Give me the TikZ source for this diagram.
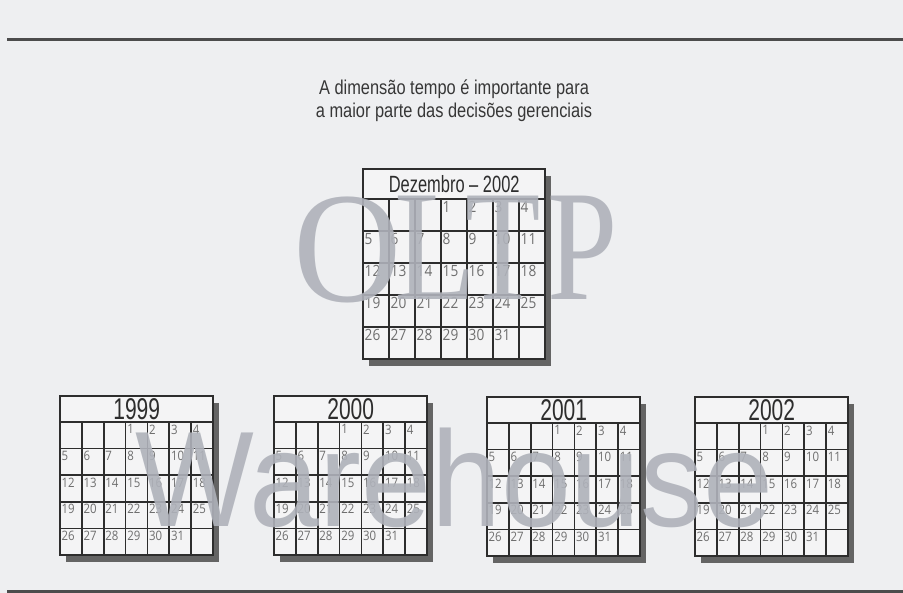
\documentclass[tikz,border=0pt]{standalone}
\usepackage{fontspec}
\setmainfont{Liberation Sans}
\newfontfamily\condfont[FakeStretch=0.7]{Liberation Sans}
\newfontfamily\capfont[FakeStretch=0.82]{Liberation Sans}
\newfontfamily\numfont[FakeStretch=0.88]{Open Sans}
\newfontfamily\bigserif{Liberation Serif}
\definecolor{pagebg}{RGB}{238,239,241}
\definecolor{cellbg}{RGB}{244,244,245}
\definecolor{linecol}{RGB}{45,45,45}
\definecolor{shadowcol}{RGB}{100,100,100}
\definecolor{numcol}{RGB}{110,110,110}
\definecolor{bigletter}{RGB}{175,178,186}
\definecolor{captioncol}{RGB}{55,55,55}
\tikzset{
  calline/.style={draw=linecol, line width=1.7pt},
  rule/.style={draw=linecol!85!white, line width=3pt},
  daynum/.style={anchor=north west, inner sep=0pt, text=numcol},
  caltitle/.style={anchor=north west, inner sep=0pt, text=linecol},
  captiontext/.style={anchor=base, inner sep=0pt, text=captioncol, font=\capfont\fontsize{20pt}{23pt}\selectfont},
  watermark/.style={inner sep=0pt, text=bigletter, opacity=0.9}
}
% #1 name, #2 x, #3 y, #4 col width, #5 header height, #6 row height,
% #7 title, #8 title size, #9 number size
\newcommand{\mycal}[9]{%
  \pgfmathsetmacro\calw{7*#4}%
  \pgfmathsetmacro\calh{#5+5*#6}%
  \fill[shadowcol] (#2+6,#3+7) rectangle ++(\calw,\calh);
  \fill[cellbg] (#2,#3) rectangle ++(\calw,\calh);
  \node[caltitle, minimum width=\calw pt, minimum height=#5 pt,
        font=\condfont\fontsize{#8pt}{#8pt}\selectfont] (#1-title) at (#2,#3) {#7};
  \foreach \i in {0,...,4}{
    \draw[calline] (#2,{#3+#5+\i*#6}) -- ++(\calw,0);
  }
  \foreach \j in {1,...,6}{
    \draw[calline] ({#2+\j*#4},{#3+#5}) -- ++(0,5*#6);
  }
  \draw[calline] (#2,#3) rectangle ++(\calw,\calh);
  \foreach \d in {1,...,31}{
    \pgfmathtruncatemacro\cc{mod(\d+2,7)}%
    \pgfmathtruncatemacro\rr{int((\d+2)/7)}%
    \node[daynum, font=\numfont\fontsize{#9pt}{#9pt}\selectfont] (#1-d\d)
      at ({#2+\cc*#4+1.5},{#3+#5+\rr*#6+2.5}) {\d};
  }
}
\begin{document}
\begin{tikzpicture}[x=1pt,y=-1pt]
\fill[pagebg] (0,0) rectangle (903,593);
\useasboundingbox (0,0) rectangle (903,593);
% rules
\coordinate (t1) at (7,40);
\coordinate (t2) at (903,40);
\coordinate (b1) at (7,591);
\coordinate (b2) at (903,591);
\draw[rule] (t1) -- (t2);
\draw[rule] (b1) -- (b2);
% caption
\node[captiontext] (cap1) at (454,95) {A dimensão tempo é importante para};
\node[captiontext] (cap2) at (454,118) {a maior parte das decisões gerenciais};
% calendars
\mycal{dez}{363}{169}{26}{30}{32}{Dezembro – 2002}{23.5}{15.5}
\mycal{y1999}{60}{396}{21.86}{26}{26.6}{1999}{30}{13}
\mycal{y2000}{274}{396}{21.86}{26}{26.6}{2000}{30}{13}
\mycal{y2001}{487}{397}{21.86}{26}{26.6}{2001}{30}{13}
\mycal{y2002}{695}{397}{21.86}{26}{26.6}{2002}{30}{13}
% watermark words
\node[watermark, anchor=base, xscale=0.95, font=\bigserif\fontsize{158pt}{158pt}\selectfont] (wO) at (348,302) {O};
\node[watermark, anchor=base, xscale=0.85, font=\bigserif\fontsize{158pt}{158pt}\selectfont] (wL) at (436,300) {L};
\node[watermark, anchor=base, xscale=0.78, font=\bigserif\fontsize{158pt}{158pt}\selectfont] (wT) at (503,300) {T};
\node[watermark, anchor=base, xscale=0.8, font=\bigserif\fontsize{158pt}{158pt}\selectfont] (wP) at (583,300) {P};
\node[watermark, anchor=base west, xscale=0.925, font=\fontsize{136pt}{136pt}\selectfont] (wh) at (135,527) {Warehouse};
\end{tikzpicture}
\end{document}
